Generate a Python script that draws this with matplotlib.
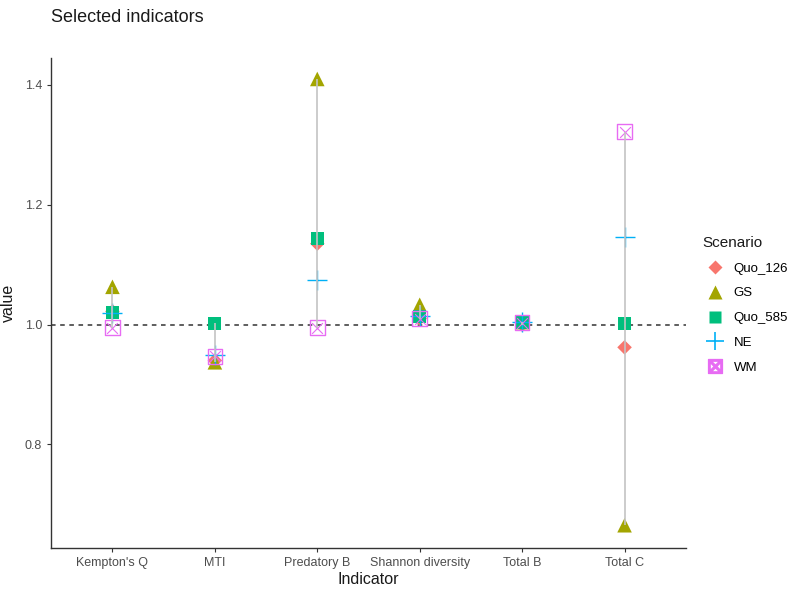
import matplotlib
matplotlib.use("Agg")
import matplotlib.pyplot as plt
from matplotlib.lines import Line2D

plt.rcParams['font.family'] = ['Liberation Sans', 'DejaVu Sans']

indicators = ["Kempton's Q", "MTI", "Predatory B", "Shannon diversity", "Total B", "Total C"]
scenarios = ["Quo_126", "GS", "Quo_585", "NE", "WM"]
quo_126 = [1.022, 0.940, 1.135, 1.010, 1.000, 0.962]
gs = [1.063, 0.937, 1.410, 1.033, 1.004, 0.665]
quo_585 = [1.020, 1.002, 1.143, 1.013, 1.003, 1.002]
ne = [1.020, 0.950, 1.075, 1.015, 1.005, 1.147]
wm = [0.995, 0.947, 0.995, 1.010, 1.003, 1.322]

values = [quo_126, gs, quo_585, ne, wm]
colors = ["#F8766D", "#A3A500", "#00BF7D", "#00B0F6", "#E76BF3"]

fig = plt.figure(figsize=(7.92, 5.9), dpi=100)
ax = fig.add_axes([51/792, 1-548/590, (686-51)/792, (548-58)/590])

x = list(range(len(indicators)))

ax.axhline(1.0, color="#333333", linestyle=(0, (3, 3)), linewidth=1.1, zorder=1)

def draw(vals, i, zorder):
    c = colors[i]
    if i == 0:
        ax.scatter(x, vals, marker='D', s=55, color=c, edgecolors='none', zorder=zorder)
    elif i == 1:
        ax.scatter(x, vals, marker='^', s=110, color=c, edgecolors='none', zorder=zorder)
    elif i == 2:
        ax.scatter(x, vals, marker='s', s=90, color=c, edgecolors='none', zorder=zorder)
    elif i == 3:
        ax.scatter(x, vals, marker='+', s=190, color=c, linewidths=1.0, zorder=zorder)
    else:
        ax.scatter(x, vals, marker='s', s=110, facecolors='none', edgecolors=c, linewidths=1.0, zorder=zorder)
        ax.scatter(x, vals, marker='x', s=60, color=c, linewidths=0.8, zorder=zorder)

for i, vals in enumerate(values):
    draw(vals, i, 3 + i)

lows = [min(v[k] for v in values) for k in range(len(indicators))]
highs = [max(v[k] for v in values) for k in range(len(indicators))]
ax.vlines(x, lows, highs, color="#C4C4C4", linewidth=1.2, zorder=10)

ax.set_xlim(-0.6, 5.6)
ax.set_ylim(0.627, 1.445)
ax.set_xticks(x)
ax.set_xticklabels(indicators)
ax.set_yticks([0.8, 1.0, 1.2, 1.4])
ax.set_yticklabels(["0.8", "1.0", "1.2", "1.4"])
ax.tick_params(axis='both', labelsize=9, colors="#333333", labelcolor="#4D4D4D", length=3, width=0.8)
for s in ["top", "right"]:
    ax.spines[s].set_visible(False)
for s in ["left", "bottom"]:
    ax.spines[s].set_linewidth(1.0)
    ax.spines[s].set_color("#333333")

ax.set_xlabel("Indicator", fontsize=11.5, color="#1a1a1a", labelpad=2)
ax.set_ylabel("value", fontsize=11.5, color="#1a1a1a", labelpad=6)
fig.text(51/792, 1-17/590, "Selected indicators", fontsize=13, color="#1a1a1a", va='center', ha='left')

# Legend
handles = [
    Line2D([], [], marker='D', linestyle='none', markersize=7, color=colors[0], markeredgecolor='none'),
    Line2D([], [], marker='^', linestyle='none', markersize=10, color=colors[1], markeredgecolor='none'),
    Line2D([], [], marker='s', linestyle='none', markersize=9, color=colors[2], markeredgecolor='none'),
    Line2D([], [], marker='+', linestyle='none', markersize=13, color=colors[3], markeredgewidth=1.2),
    Line2D([], [], marker='$\\boxtimes$', linestyle='none', markersize=10, color=colors[4]),
]
leg = fig.legend(handles, scenarios, title="Scenario", loc='upper left',
                 bbox_to_anchor=(690/792, 1-224/590), frameon=False,
                 fontsize=9.5, title_fontsize=11, handletextpad=0.4,
                 labelspacing=0.95, alignment='left')
leg.get_title().set_color("#1a1a1a")

fig.savefig("out.png", dpi=100, facecolor="white")
